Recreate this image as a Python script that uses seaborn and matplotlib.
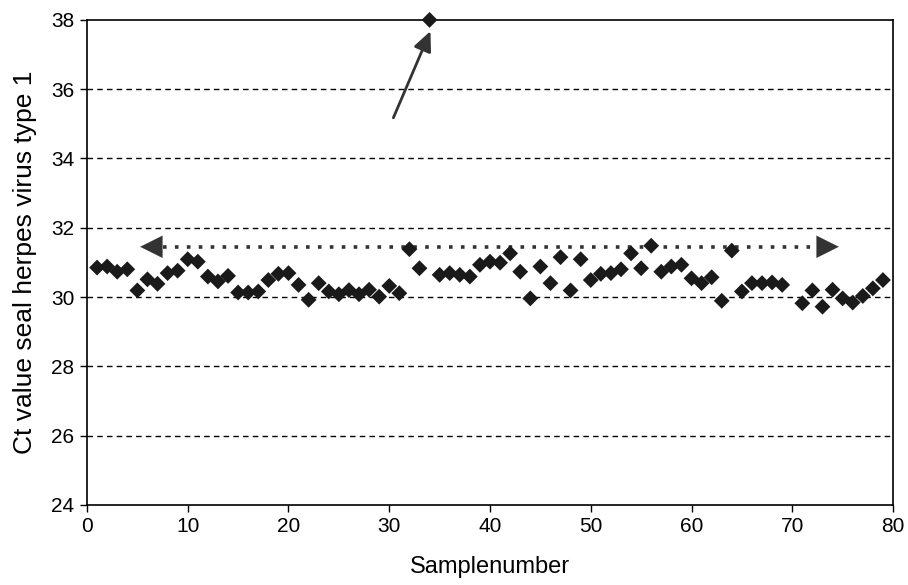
import numpy as np
import pandas as pd
import matplotlib
matplotlib.use("Agg")
import matplotlib.pyplot as plt
import seaborn as sns

# sample numbers (sample 70 not shown in the chart)
samples = list(range(1, 70)) + list(range(71, 80))

# Ct values
ct_values = [
    30.85, 30.88, 30.73, 30.80, 30.19, 30.51, 30.38, 30.69, 30.76, 31.09,
    31.02, 30.59, 30.45, 30.61, 30.13, 30.13, 30.16, 30.49, 30.67, 30.69,
    30.35, 29.92, 30.40, 30.16, 30.08, 30.20, 30.08, 30.21, 30.01, 30.32,
    30.11, 31.38, 30.83, 38.00, 30.64, 30.69, 30.64, 30.59, 30.93, 31.02,
    30.99, 31.26, 30.73, 29.96, 30.88, 30.40, 31.15, 30.19, 31.09, 30.49,
    30.67, 30.69, 30.80, 31.26, 30.83, 31.48, 30.73, 30.88, 30.93, 30.54,
    30.40, 30.57, 29.89, 31.34, 30.16, 30.40, 30.40, 30.42, 30.35,
    29.82, 30.19, 29.72, 30.21, 29.96, 29.84, 30.03, 30.25, 30.49,
]

df = pd.DataFrame({"sample": samples, "ct": ct_values})

plt.rcParams["font.family"] = ["Liberation Sans", "DejaVu Sans"]

fig = plt.figure(figsize=(9.08, 5.85), dpi=100)
ax = fig.add_axes([0.0958, 0.137, 0.8877, 0.829])

# dashed horizontal grid lines
for yv in [26, 28, 30, 32, 34, 36]:
    ax.axhline(yv, color="black", linestyle=(0, (4, 3)), linewidth=1.0, zorder=1)

sns.scatterplot(data=df, x="sample", y="ct", marker="D", s=65, color="#1a1a1a",
                edgecolor="none", ax=ax, zorder=3, legend=False, clip_on=False)

# dotted double-headed arrow across the normal range
ax.plot([7.5, 72.5], [31.45, 31.45], linestyle=(0, (1, 2.3)), color="#333333",
        linewidth=2.6, zorder=2)
head = "-|>,head_length=1.6,head_width=0.8"
ax.annotate("", xy=(5.0, 31.45), xytext=(7.6, 31.45),
            arrowprops=dict(arrowstyle=head, color="#333333", lw=0.1), zorder=2)
ax.annotate("", xy=(74.9, 31.45), xytext=(72.4, 31.45),
            arrowprops=dict(arrowstyle=head, color="#333333", lw=0.1), zorder=2)

# arrow pointing at the outlier
ax.annotate("", xy=(34.2, 37.75), xytext=(30.3, 35.1),
            arrowprops=dict(arrowstyle="-|>,head_length=1.2,head_width=0.55",
                            color="#333333", lw=2), zorder=2)

ax.set_xlim(0, 80)
ax.set_ylim(24, 38)
ax.set_xticks(range(0, 81, 10))
ax.set_yticks(range(24, 39, 2))
ax.tick_params(labelsize=15, direction="out", length=5, width=1, colors="black", pad=4)
ax.set_xlabel("Samplenumber", fontsize=17, labelpad=14)
ax.set_ylabel("Ct value seal herpes virus type 1", fontsize=19, labelpad=10)
for sp in ax.spines.values():
    sp.set_color("black")
    sp.set_linewidth(1.2)

fig.savefig("out.png", dpi=100, facecolor="white")
